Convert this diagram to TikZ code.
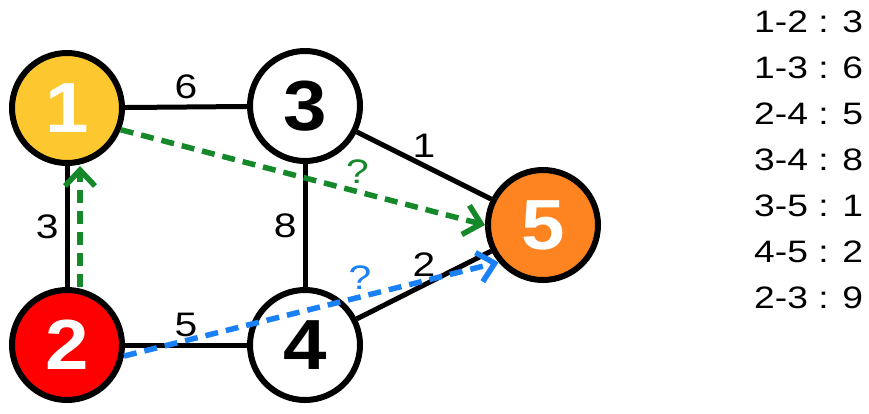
\documentclass[tikz,border=0pt]{standalone}
\usepackage{fontspec}
\setmainfont{Liberation Sans}[FakeStretch=1.2]
\newfontfamily\vertexfont{Liberation Sans}[FakeStretch=1.1]
\usetikzlibrary{arrows.meta,positioning}
\definecolor{nodeyellow}{HTML}{FDC82F}
\definecolor{nodered}{HTML}{FF0000}
\definecolor{nodeorange}{HTML}{FD8421}
\definecolor{pathgreen}{HTML}{15882A}
\definecolor{pathblue}{HTML}{1A80F5}
\tikzset{
  vertex/.style={draw=black,fill=white,circle,line width=6pt,minimum size=110pt,inner sep=0pt,
    font=\vertexfont\bfseries\fontsize{71}{71}\selectfont},
  yellowvertex/.style={vertex,fill=nodeyellow,text=white},
  redvertex/.style={vertex,fill=nodered,text=white},
  orangevertex/.style={vertex,fill=nodeorange,text=white},
  edge/.style={line width=5pt},
  weight/.style={font=\fontsize{34}{34}\selectfont,inner sep=6pt},
  guess/.style={line width=5.5pt,dash pattern=on 13pt off 8pt,
    -{Straight Barb[length=16pt,width=30pt,line width=5.5pt]}},
}

\begin{document}
\begin{tikzpicture}[x=1pt,y=-1pt]
    \useasboundingbox (0,0) rectangle (869,413);
    \node[yellowvertex] (n1) at (67,108) {1};
    \node[redvertex] (n2) at (67,345) {2};
    \node[vertex] (n3) at (305,106) {3};
    \node[vertex] (n4) at (305,345) {4};
    \node[orangevertex] (n5) at (543,225) {5};
    \draw[edge] (n1) -- node[weight,above] {6} (n3);
    \draw[edge] (n1) -- node[weight,left] {3} (n2);
    \draw[edge] (n3) -- node[weight,left] {8} (n4);
    \draw[edge] (n2) -- node[weight,above] {5} (n4);
    \draw[edge] (n3) -- node[weight,above] {1} (n5);
    \draw[edge] (n4) -- node[weight,above] {2} (n5);
    % candidate paths from 2
    \draw[guess,pathgreen] ([xshift=13pt]n2.north) -- ([xshift=13pt]n1.south);
    \draw[guess,pathgreen] (n1.-22) -- node[weight,above,pos=.65,text=pathgreen,inner sep=5pt] {?} (n5.west);
    \draw[guess,pathblue] (n2.-11) -- node[weight,above,pos=.63,text=pathblue,inner sep=5pt] {?} (n5.220);
    \node[anchor=north west,align=left,inner sep=0pt,font=\fontsize{31}{46}\selectfont] (weights) at (754,11)
      {1-2 : 3\\1-3 : 6\\2-4 : 5\\3-4 : 8\\3-5 : 1\\4-5 : 2\\2-3 : 9};
  \end{tikzpicture}
\end{document}
